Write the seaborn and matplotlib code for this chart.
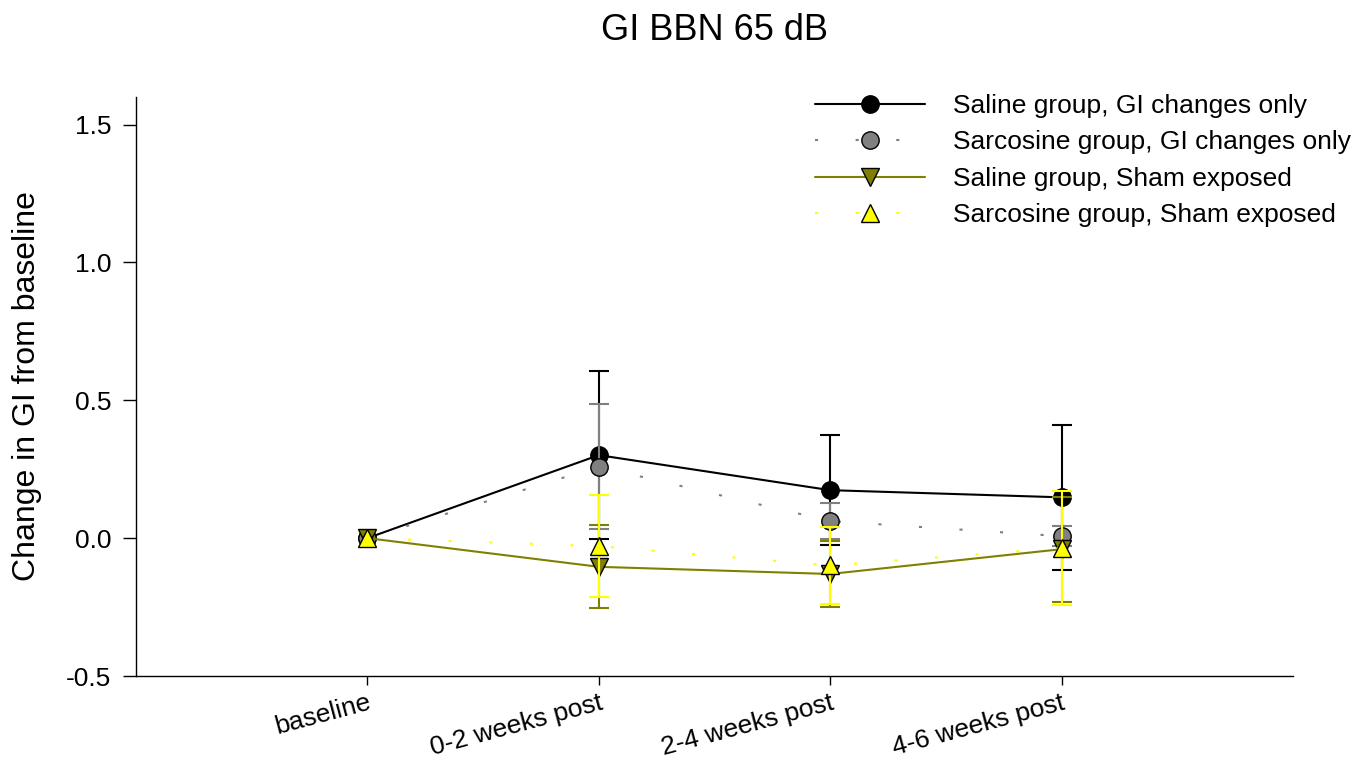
import numpy as np
import pandas as pd
import matplotlib
matplotlib.use("Agg")
import matplotlib.pyplot as plt
import seaborn as sns

# dane
categories = ["baseline", "0-2 weeks post", "2-4 weeks post", "4-6 weeks post"]

saline_gi = [0.0, 0.301, 0.174, 0.148]
saline_gi_err = [0.0, 0.304, 0.200, 0.263]

sarcosine_gi = [0.0, 0.259, 0.062, 0.007]
sarcosine_gi_err = [0.0, 0.227, 0.064, 0.037]

saline_sham = [0.0, -0.104, -0.130, -0.040]
saline_sham_err = [0.0, 0.150, 0.120, 0.190]

sarcosine_sham = [0.0, -0.029, -0.099, -0.036]
sarcosine_sham_err = [0.0, 0.184, 0.140, 0.207]

labels = [
    "Saline group, GI changes only",
    "Sarcosine group, GI changes only",
    "Saline group, Sham exposed",
    "Sarcosine group, Sham exposed",
]

sns.set_theme(style="ticks")
plt.rcParams["font.family"] = ["Liberation Sans", "DejaVu Sans"]
plt.rcParams["axes.unicode_minus"] = False
for k in ["text.color", "axes.labelcolor", "xtick.color", "ytick.color",
          "axes.edgecolor"]:
    plt.rcParams[k] = "black"

fig = plt.figure(figsize=(13.68, 7.62), dpi=100)
ax = fig.add_axes([136 / 1368, 1 - 676 / 762, (1293 - 136) / 1368, (676 - 97) / 762])

x = np.arange(len(categories))
dotted = (0, (1.5, 18))
series = [
    (saline_gi, saline_gi_err, "black", "-", "o", "black"),
    (sarcosine_gi, sarcosine_gi_err, "#808080", dotted, "o", "#808080"),
    (saline_sham, saline_sham_err, "#808000", "-", "v", "#808000"),
    (sarcosine_sham, sarcosine_sham_err, "#ffff00", dotted, "^", "#ffff00"),
]

handles = []
for i, (vals, errs, col, ls, mk, fc) in enumerate(series):
    df = pd.DataFrame({"x": x, "y": vals})
    z = 2 + i * 3
    sns.lineplot(data=df, x="x", y="y", ax=ax, color=col, linestyle=ls,
                 linewidth=1.5, zorder=z, label=labels[i])
    errs = np.array(errs)
    m = errs > 0
    ax.errorbar(x[m], np.array(vals)[m], yerr=errs[m], fmt="none",
                ecolor=col, elinewidth=1.5, capsize=7.5, capthick=1.5,
                zorder=z + 1)
    ax.plot(x, vals, linestyle="none", marker=mk, markersize=12.5,
            markerfacecolor=fc, markeredgecolor="black",
            markeredgewidth=1.0, zorder=z + 2)
    h = plt.Line2D([], [], color=col, linestyle=ls, linewidth=1.5, marker=mk,
                   markersize=12.5, markerfacecolor=fc,
                   markeredgecolor="black", markeredgewidth=1.0)
    handles.append(h)

ax.set_xlim(-1, 4)
ax.set_ylim(-0.5, 1.6)
ax.set_xticks(x)
ax.set_xticklabels(categories, rotation=15, ha="right", va="top",
                   rotation_mode="anchor", fontsize=19)
ax.set_yticks([-0.5, 0.0, 0.5, 1.0, 1.5])
ax.set_yticklabels(["-0.5", "0.0", "0.5", "1.0", "1.5"], fontsize=19)
ax.tick_params(axis="x", length=6.5, width=1, pad=4)
ax.tick_params(axis="y", length=9.3, width=1, pad=8.5)
ax.set_xlabel("")
ax.set_ylabel("Change in GI from baseline", fontsize=23, labelpad=17)
sns.despine(ax=ax)
for s in ["left", "bottom"]:
    ax.spines[s].set_linewidth(1)

ax.legend(handles=handles, labels=labels, loc="upper left",
          bbox_to_anchor=(815 / 1368, 1 - 94 / 762),
          bbox_transform=fig.transFigure, frameon=False, fontsize=19,
          handlelength=4.16, handletextpad=1.06, labelspacing=0.47,
          borderpad=0, borderaxespad=0)

fig.text(0.5225, 0.96, "GI BBN 65 dB", ha="center", va="center", fontsize=26)

fig.savefig("out.png", dpi=100)
